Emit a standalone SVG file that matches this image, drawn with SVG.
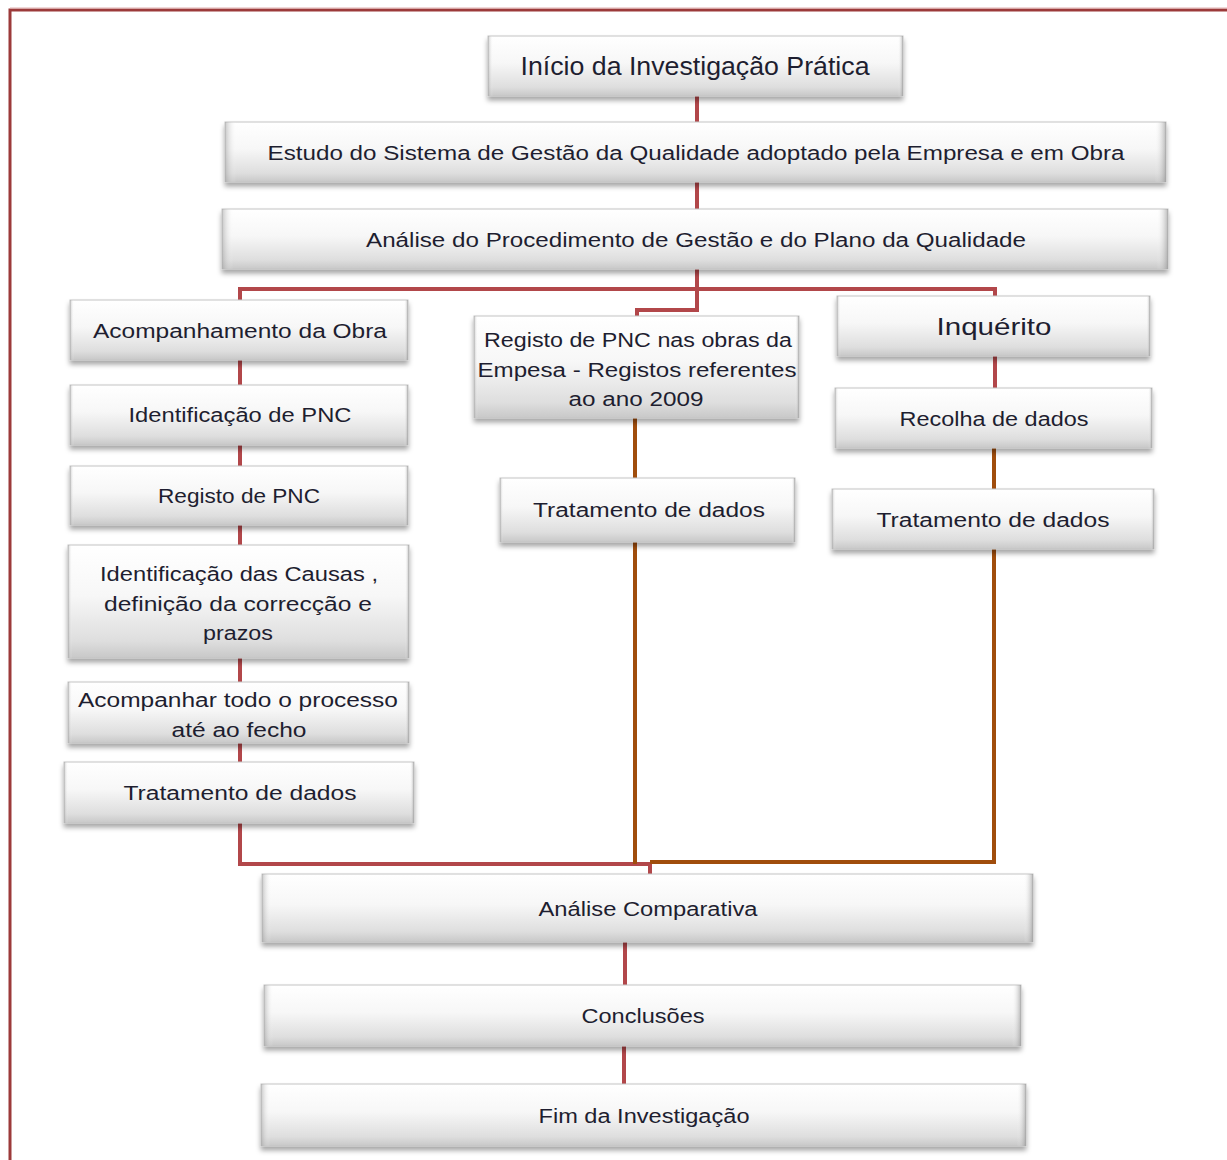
<svg xmlns="http://www.w3.org/2000/svg" width="1227" height="1160" viewBox="0 0 1227 1160">
<defs>
<linearGradient id="gv" x1="0" y1="0" x2="0" y2="1">
<stop offset="0" stop-color="#ffffff"/>
<stop offset="0.45" stop-color="#f7f7f7"/>
<stop offset="0.85" stop-color="#dedede"/>
<stop offset="1" stop-color="#c8c8c8"/>
</linearGradient>
<linearGradient id="gh" x1="0" y1="0" x2="1" y2="0">
<stop offset="0" stop-color="#9a9a9a" stop-opacity="0.55"/>
<stop offset="0.012" stop-color="#ffffff" stop-opacity="0"/>
<stop offset="0.988" stop-color="#ffffff" stop-opacity="0"/>
<stop offset="1" stop-color="#8a8a8a" stop-opacity="0.6"/>
</linearGradient>
<filter id="sh" x="-5%" y="-20%" width="110%" height="150%">
<feDropShadow dx="0" dy="4" stdDeviation="2.5" flood-color="#000" flood-opacity="0.35"/>
</filter>
</defs>
<style>
.b{fill:url(#gv);stroke:#c4c4c4;stroke-width:1;filter:url(#sh)}
.e{fill:url(#gh)}
.t{font-family:"Liberation Sans",Arial,sans-serif;font-size:20px;fill:#1e1e30;text-anchor:middle}
.r{fill:none;stroke:#b2474a;stroke-width:4}
.o{fill:none;stroke:#a04d0c;stroke-width:4}
</style>
<rect x="0" y="0" width="1227" height="1160" fill="#ffffff"/>
<path d="M10,1160 V10 H1227" fill="none" stroke="#9c3a3a" stroke-width="3"/>
<path d="M10,8 H1227" fill="none" stroke="#e0b0b0" stroke-width="1"/>

<g id="connectors">
<path class="r" d="M697,96 V122"/>
<path class="r" d="M697,182 V209"/>
<path class="r" d="M697,269 V289 M240,300 V289 H995 V296"/>
<path class="r" d="M697,289 V310 H637 V316"/>
<path class="r" d="M240,360 V385 M240,445 V466 M240,525 V545 M240,658 V682 M240,743 V762"/>
<path class="r" d="M240,823 V864 H650 V874"/>
<path class="o" d="M635,418 V478 M635,542 V864"/>
<path class="r" d="M995,356 V388"/>
<path class="o" d="M994,448 V489 M994,549 V862 H650"/>
<path class="r" d="M625,942 V985"/>
<path class="r" d="M624,1046 V1084"/>
</g>

<g id="n1"><rect class="b" x="488" y="36" width="415" height="60"/><rect class="e" x="488" y="36" width="415" height="60"/><text class="t" x="695" y="75" style="font-size:26px" textLength="349" lengthAdjust="spacingAndGlyphs">Início da Investigação Prática</text></g>
<g id="n2"><rect class="b" x="225" y="122" width="941" height="60"/><rect class="e" x="225" y="122" width="941" height="60"/><text class="t" x="696" y="160" textLength="857" lengthAdjust="spacingAndGlyphs">Estudo do Sistema de Gestão da Qualidade adoptado pela Empresa e em Obra</text></g>
<g id="n3"><rect class="b" x="222" y="209" width="946" height="60"/><rect class="e" x="222" y="209" width="946" height="60"/><text class="t" x="696" y="247" textLength="660" lengthAdjust="spacingAndGlyphs">Análise do Procedimento de Gestão e do Plano da Qualidade</text></g>

<g id="n4"><rect class="b" x="70" y="300" width="338" height="60"/><rect class="e" x="70" y="300" width="338" height="60"/><text class="t" x="240" y="338" textLength="294" lengthAdjust="spacingAndGlyphs">Acompanhamento da Obra</text></g>
<g id="n5"><rect class="b" x="70" y="385" width="338" height="60"/><rect class="e" x="70" y="385" width="338" height="60"/><text class="t" x="240" y="422" textLength="223" lengthAdjust="spacingAndGlyphs">Identificação de PNC</text></g>
<g id="n6"><rect class="b" x="70" y="466" width="338" height="59"/><rect class="e" x="70" y="466" width="338" height="59"/><text class="t" x="239" y="503" textLength="162" lengthAdjust="spacingAndGlyphs">Registo de PNC</text></g>
<g id="n7"><rect class="b" x="68" y="545" width="341" height="113"/><rect class="e" x="68" y="545" width="341" height="113"/><text class="t" x="239" y="581" textLength="278" lengthAdjust="spacingAndGlyphs">Identificação das Causas ,</text><text class="t" x="238" y="611" textLength="268" lengthAdjust="spacingAndGlyphs">definição da correcção e</text><text class="t" x="238" y="640" textLength="70" lengthAdjust="spacingAndGlyphs">prazos</text></g>
<g id="n8"><rect class="b" x="68" y="682" width="341" height="61"/><rect class="e" x="68" y="682" width="341" height="61"/><text class="t" x="238" y="707" textLength="320" lengthAdjust="spacingAndGlyphs">Acompanhar todo o processo</text><text class="t" x="239" y="737" textLength="135" lengthAdjust="spacingAndGlyphs">até ao fecho</text></g>
<g id="n9"><rect class="b" x="64" y="762" width="350" height="61"/><rect class="e" x="64" y="762" width="350" height="61"/><text class="t" x="240" y="800" textLength="233" lengthAdjust="spacingAndGlyphs">Tratamento de dados</text></g>

<g id="n10"><rect class="b" x="474" y="316" width="325" height="102"/><rect class="e" x="474" y="316" width="325" height="102"/><text class="t" x="638" y="347" textLength="308" lengthAdjust="spacingAndGlyphs">Registo de PNC nas obras da</text><text class="t" x="637" y="377" textLength="319" lengthAdjust="spacingAndGlyphs">Empesa - Registos referentes</text><text class="t" x="636" y="406" textLength="135" lengthAdjust="spacingAndGlyphs">ao ano 2009</text></g>
<g id="n11"><rect class="b" x="500" y="478" width="295" height="64"/><rect class="e" x="500" y="478" width="295" height="64"/><text class="t" x="649" y="517" textLength="232" lengthAdjust="spacingAndGlyphs">Tratamento de dados</text></g>

<g id="n12"><rect class="b" x="837" y="296" width="313" height="60"/><rect class="e" x="837" y="296" width="313" height="60"/><text class="t" x="994" y="335" style="font-size:24px" textLength="115" lengthAdjust="spacingAndGlyphs">Inquérito</text></g>
<g id="n13"><rect class="b" x="835" y="388" width="317" height="60"/><rect class="e" x="835" y="388" width="317" height="60"/><text class="t" x="994" y="426" textLength="189" lengthAdjust="spacingAndGlyphs">Recolha de dados</text></g>
<g id="n14"><rect class="b" x="832" y="489" width="322" height="60"/><rect class="e" x="832" y="489" width="322" height="60"/><text class="t" x="993" y="527" textLength="233" lengthAdjust="spacingAndGlyphs">Tratamento de dados</text></g>

<g id="n15"><rect class="b" x="262" y="874" width="771" height="68"/><rect class="e" x="262" y="874" width="771" height="68"/><text class="t" x="648" y="916" textLength="219" lengthAdjust="spacingAndGlyphs">Análise Comparativa</text></g>
<g id="n16"><rect class="b" x="264" y="985" width="757" height="61"/><rect class="e" x="264" y="985" width="757" height="61"/><text class="t" x="643" y="1023" textLength="123" lengthAdjust="spacingAndGlyphs">Conclusões</text></g>
<g id="n17"><rect class="b" x="261" y="1084" width="765" height="62"/><rect class="e" x="261" y="1084" width="765" height="62"/><text class="t" x="644" y="1123" textLength="211" lengthAdjust="spacingAndGlyphs">Fim da Investigação</text></g>
</svg>
